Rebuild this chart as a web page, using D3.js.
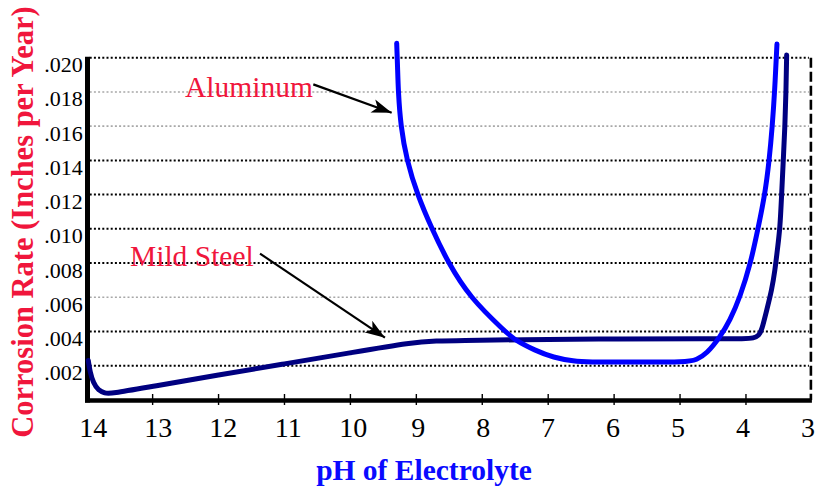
<!DOCTYPE html>
<html>
<head>
<meta charset="utf-8">
<script src="https://cdn.jsdelivr.net/npm/d3@7"></script>
<style>
html,body{margin:0;padding:0;background:#fff;}
svg{display:block;}
</style>
</head>
<body>
<svg id="chart" width="817" height="486"></svg>
<script>
// ---- data ----
const phTicks = [14, 13, 12, 11, 10, 9, 8, 7, 6, 5, 4, 3];
const rateTicks = [0.002, 0.004, 0.006, 0.008, 0.010, 0.012, 0.014, 0.016, 0.018, 0.020];
const rateTickLabels = [".002", ".004", ".006", ".008", ".010", ".012", ".014", ".016", ".018", ".020"];

const steelPH   = [13.976, 13.95, 13.90, 13.824, 13.72, 13.647, 13, 12, 11, 10, 9.051, 8.70, 8.338, 7.504, 5.911, 4.5, 4.0, 3.889, 3.80, 3.762, 3.686, 3.610, 3.560, 3.525, 3.484, 3.459, 3.434, 3.409, 3.393, 3.383];
const steelRate = [0.00231, 0.00165, 0.00100, 0.00056, 0.00040, 0.00036, 0.00080, 0.00146, 0.00211, 0.00276, 0.00338, 0.00345, 0.00348, 0.00352, 0.00358, 0.00358, 0.00358, 0.00360, 0.00378, 0.00407, 0.00524, 0.00641, 0.00758, 0.00875, 0.00999, 0.01202, 0.01401, 0.01600, 0.01801, 0.02016];

const aluminumPH   = [9.298, 9.285, 9.274, 9.237, 9.146, 8.986, 8.767, 8.515, 8.186, 7.655, 7.504, 7.2, 6.923, 6.60, 6.416, 5.70, 4.899, 4.75, 4.596, 4.394, 4.243, 4.091, 3.929, 3.818, 3.712, 3.647, 3.601, 3.565, 3.530];
const aluminumRate = [0.02084, 0.01950, 0.01801, 0.01600, 0.01401, 0.01201, 0.01002, 0.00800, 0.00598, 0.00401, 0.00350, 0.00290, 0.00248, 0.00226, 0.00222, 0.00222, 0.00221, 0.00235, 0.00270, 0.00367, 0.00465, 0.00600, 0.00799, 0.01000, 0.01202, 0.01401, 0.01600, 0.01801, 0.02080];

const seriesNames = ["Aluminum", "Mild Steel"];
// annotation anchors in data units: [labelPH, labelRate, arrowFromPH, arrowFromRate, arrowToPH, arrowToRate]
const aluminumNote = [12.509, 0.01768, 10.563, 0.01844, 9.374, 0.01678];
const steelNote    = [13.343, 0.00781, 11.371, 0.00855, 9.476, 0.00364];

const xTitle = "pH of Electrolyte";
const yTitle = "Corrosion Rate (Inches per Year)";

// ---- drawing ----
const svg = d3.select("#chart");
const x = d3.scaleLinear().domain([14, 3]).range([86.7, 811.9]);
const xLab = d3.scaleLinear().domain([14, 3]).range([93.3, 808]);
const y = d3.scaleLinear().domain([0, 0.020]).range([400, 57.7]);

const red = "#f0163c";
const serif = "Liberation Serif, Times New Roman, serif";

// gridlines
const grayTicks = [0.018, 0.016, 0.006];
const isGray = d => grayTicks.some(g => Math.abs(g - d) < 1e-9);
svg.append("g").selectAll("line").data(rateTicks).join("line")
  .attr("x1", x(14) + 3).attr("x2", x(3) - 3)
  .attr("y1", d => y(d)).attr("y2", d => y(d))
  .attr("stroke", d => isGray(d) ? "#a8a8a8" : "#000")
  .attr("stroke-width", d => isGray(d) ? 1.6 : 2)
  .attr("stroke-dasharray", "2,2.2");

// right dashed border
svg.append("line")
  .attr("x1", x(3) - 1).attr("x2", x(3) - 1)
  .attr("y1", y(0.020)).attr("y2", y(0))
  .attr("stroke", "#000").attr("stroke-width", 2.6)
  .attr("stroke-dasharray", "10,4");

// y tick labels
svg.append("g").selectAll("text").data(rateTicks).join("text")
  .attr("x", x(14) - 4)
  .attr("y", d => y(d) + 14.5)
  .attr("text-anchor", "end")
  .style("font-family", serif)
  .attr("font-size", 22)
  .attr("fill", "#000")
  .text((d, i) => rateTickLabels[i]);

// x tick marks
svg.append("g").selectAll("line").data(phTicks.filter(d => d !== 14 && d !== 3)).join("line")
  .attr("x1", d => x(d)).attr("x2", d => x(d))
  .attr("y1", y(0) - 6).attr("y2", y(0) + 5)
  .attr("stroke", "#000").attr("stroke-width", 1.4);

// x tick labels
svg.append("g").selectAll("text").data(phTicks).join("text")
  .attr("x", d => xLab(d))
  .attr("y", 437)
  .attr("text-anchor", "middle")
  .style("font-family", serif)
  .attr("font-size", 28)
  .attr("fill", "#000")
  .text(d => d);

// axes
svg.append("line")
  .attr("x1", x(14) + 0.8).attr("x2", x(14) + 0.8)
  .attr("y1", y(0.020) - 1).attr("y2", y(0) + 2.6)
  .attr("stroke", "#000").attr("stroke-width", 5);
svg.append("line")
  .attr("x1", x(14) - 1.7).attr("x2", x(3))
  .attr("y1", y(0) + 0.5).attr("y2", y(0) + 0.5)
  .attr("stroke", "#000").attr("stroke-width", 4.5);

// curves
const line = d3.line().x(d => x(d[0])).y(d => y(d[1])).curve(d3.curveBasis);
const steel = steelPH.map((p, i) => [p, steelRate[i]]);
const aluminum = aluminumPH.map((p, i) => [p, aluminumRate[i]]);

svg.append("path").datum(steel)
  .attr("d", line).attr("fill", "none")
  .attr("stroke", "#000080").attr("stroke-width", 5)
  .attr("stroke-linecap", "round").attr("stroke-linejoin", "round");
svg.append("path").datum(aluminum)
  .attr("d", line).attr("fill", "none")
  .attr("stroke", "#0000ff").attr("stroke-width", 5)
  .attr("stroke-linecap", "round").attr("stroke-linejoin", "round");

// annotations
const defs = svg.append("defs");
defs.append("marker").attr("id", "arrow")
  .attr("viewBox", "0 0 20 14").attr("refX", 20).attr("refY", 7)
  .attr("markerWidth", 20).attr("markerHeight", 14)
  .attr("markerUnits", "userSpaceOnUse")
  .attr("orient", "auto")
  .append("path").attr("d", "M0,0 L20,7 L0,14 L5,7 Z").attr("fill", "#000");

[[seriesNames[0], aluminumNote], [seriesNames[1], steelNote]].forEach(([name, n]) => {
  svg.append("text")
    .attr("x", x(n[0])).attr("y", y(n[1]))
    .style("font-family", serif).attr("font-size", 29.5)
    .attr("fill", red)
    .text(name);
  svg.append("line")
    .attr("x1", x(n[2])).attr("y1", y(n[3]))
    .attr("x2", x(n[4])).attr("y2", y(n[5]))
    .attr("stroke", "#000").attr("stroke-width", 2.2)
    .attr("marker-end", "url(#arrow)");
});

// titles
svg.append("text")
  .attr("transform", "translate(33,222) rotate(-90)")
  .attr("text-anchor", "middle")
  .style("font-family", serif).attr("font-weight", "bold")
  .attr("font-size", 30.5)
  .attr("fill", red)
  .text(yTitle);

svg.append("text")
  .attr("x", 424).attr("y", 480)
  .attr("text-anchor", "middle")
  .style("font-family", serif).attr("font-weight", "bold")
  .attr("font-size", 29.5)
  .attr("fill", "#0a0aff")
  .text(xTitle);
</script>
</body>
</html>
